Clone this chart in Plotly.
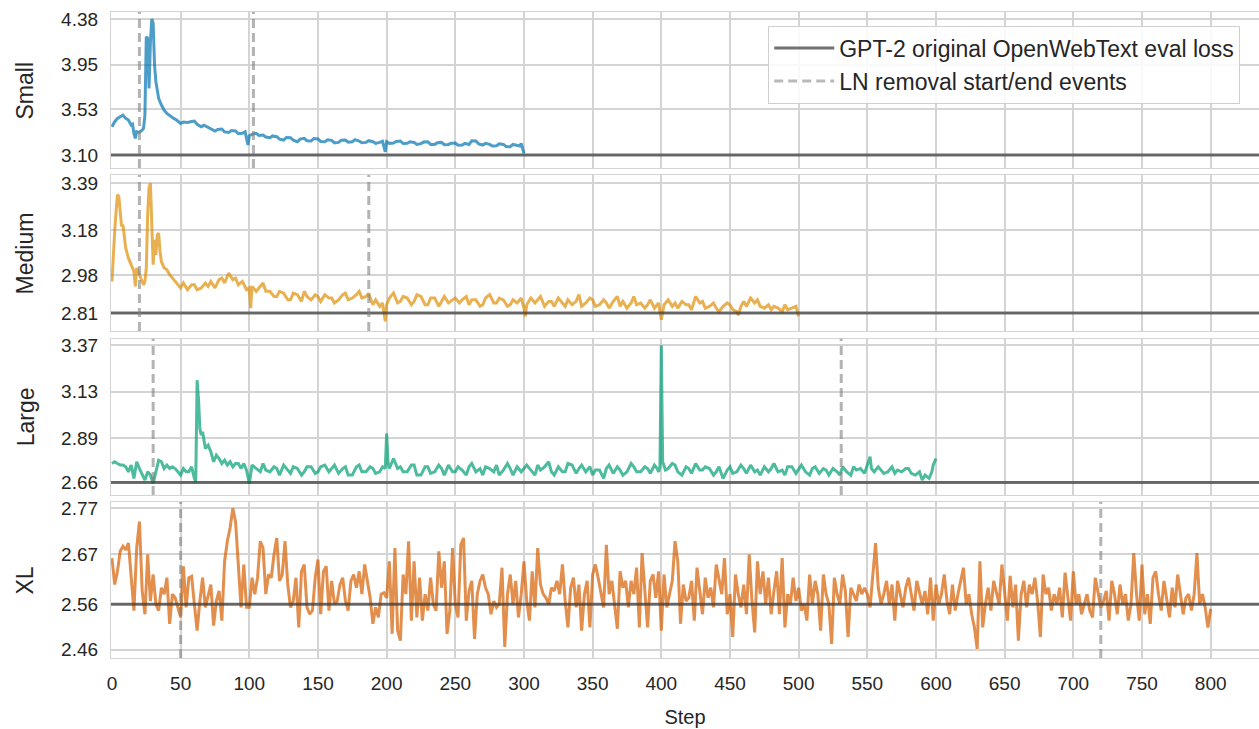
import plotly.graph_objects as go

# ---------------- data ----------------
MODELS = ["Small", "Medium", "Large", "XL"]
BASELINES = [3.10, 2.81, 2.66, 2.56]
LN_EVENTS = [[20, 103], [20, 187], [30, 531], [50, 720]]
Y_TICKS = [
    [3.10, 3.53, 3.95, 4.38],
    [2.81, 2.98, 3.18, 3.39],
    [2.66, 2.89, 3.13, 3.37],
    [2.46, 2.56, 2.67, 2.77],
]
Y_RANGES = [[2.978, 4.446], [2.730, 3.426], [2.595, 3.404], [2.442, 2.784]]
X_TICKS = list(range(0, 801, 50))
COLORS = ["rgba(1,115,178,0.7)", "rgba(222,143,5,0.7)",
          "rgba(2,158,115,0.7)", "rgba(213,94,0,0.7)"]

SMALL_STEPS = [0, 2, 4, 6, 8, 10, 12, 14, 15, 16, 17, 18, 20, 22, 23, 24, 25, 26, 27, 28,
               29, 30, 31, 32, 33, 34, 36, 38, 40, 42, 45, 47, 50, 52, 55, 58, 60, 62, 65, 67,
               70, 72, 75, 77, 80, 82, 85, 87, 90, 92, 95, 97, 99, 100, 102, 105, 107, 110, 112, 115,
               117, 120, 122, 125, 127, 130, 132, 135, 137, 140, 142, 145, 147, 150, 152, 155, 157, 160, 162, 165,
               167, 170, 172, 175, 177, 180, 182, 185, 187, 190, 192, 195, 197, 199, 200, 202, 205, 207, 210, 212,
               215, 217, 220, 222, 225, 227, 230, 232, 235, 237, 240, 242, 245, 247, 250, 252, 255, 257, 260, 262,
               265, 267, 270, 272, 275, 277, 280, 282, 285, 287, 290, 292, 295, 297, 298, 300]
SMALL_LOSS = [3.367, 3.414, 3.445, 3.461, 3.476, 3.445, 3.430, 3.382, 3.390, 3.304, 3.257, 3.320, 3.313, 3.335, 3.351, 3.476, 4.214, 4.198, 3.727, 4.167,
              4.380, 4.340, 3.947, 3.790, 3.696, 3.633, 3.571, 3.523, 3.492, 3.470, 3.445, 3.430, 3.398, 3.410, 3.407, 3.415, 3.420, 3.390, 3.367, 3.380,
              3.357, 3.345, 3.326, 3.340, 3.345, 3.318, 3.313, 3.330, 3.326, 3.300, 3.304, 3.318, 3.194, 3.282, 3.295, 3.304, 3.285, 3.288, 3.270, 3.263,
              3.280, 3.273, 3.250, 3.241, 3.265, 3.263, 3.240, 3.225, 3.250, 3.257, 3.235, 3.232, 3.255, 3.251, 3.228, 3.225, 3.244, 3.238, 3.215, 3.219,
              3.240, 3.241, 3.220, 3.225, 3.245, 3.232, 3.215, 3.219, 3.235, 3.225, 3.210, 3.219, 3.230, 3.131, 3.225, 3.210, 3.213, 3.228, 3.232, 3.208,
              3.210, 3.225, 3.219, 3.200, 3.207, 3.222, 3.225, 3.200, 3.200, 3.215, 3.219, 3.198, 3.200, 3.212, 3.213, 3.192, 3.194, 3.210, 3.200, 3.235,
              3.232, 3.205, 3.194, 3.210, 3.200, 3.185, 3.188, 3.205, 3.200, 3.180, 3.178, 3.200, 3.194, 3.185, 3.210, 3.116]

MEDIUM_STEPS = [0, 1, 2, 3, 4, 5, 6, 7, 8, 9, 10, 12, 14, 16, 17, 18, 20, 22, 23, 24,
                25, 26, 27, 28, 29, 30, 31, 32, 33, 34, 35, 36, 38, 40, 42, 45, 48, 50, 52, 55,
                58, 60, 62, 65, 68, 70, 72, 75, 78, 80, 82, 85, 88, 90, 92, 95, 98, 100, 101, 102,
                105, 108, 110, 112, 115, 118, 120, 122, 125, 128, 130, 132, 135, 138, 140, 142, 145, 148, 150, 152,
                155, 158, 160, 162, 165, 168, 170, 172, 175, 178, 180, 182, 185, 187, 188, 190, 192, 195, 197, 199,
                200, 202, 205, 208, 210, 212, 215, 218, 220, 222, 225, 228, 230, 232, 235, 238, 240, 242, 245, 248,
                250, 253, 255, 258, 260, 262, 265, 268, 270, 272, 275, 278, 280, 282, 285, 288, 290, 292, 295, 298,
                300, 301, 302, 305, 308, 310, 312, 315, 318, 320, 322, 325, 328, 330, 332, 335, 338, 340, 342, 345,
                348, 350, 352, 355, 358, 360, 362, 365, 368, 370, 372, 375, 378, 380, 382, 385, 388, 390, 392, 395,
                398, 400, 402, 405, 408, 410, 412, 415, 418, 420, 422, 425, 428, 430, 432, 435, 438, 440, 442, 445,
                448, 450, 452, 455, 456, 458, 460, 462, 465, 468, 470, 472, 475, 478, 480, 482, 485, 488, 490, 492,
                495, 498, 500]
MEDIUM_LOSS = [2.951, 3.085, 3.174, 3.264, 3.338, 3.330, 3.249, 3.197, 3.204, 3.159, 3.100, 3.055, 3.026, 2.996, 2.929, 3.011, 2.981, 2.951, 2.936, 2.951,
               3.011, 3.249, 3.368, 3.390, 3.234, 3.026, 3.137, 3.070, 3.159, 3.167, 3.085, 3.040, 3.011, 3.003, 2.981, 2.959, 2.936, 2.922, 2.944, 2.914,
               2.936, 2.936, 2.914, 2.922, 2.944, 2.929, 2.951, 2.922, 2.959, 2.966, 2.944, 2.988, 2.959, 2.966, 2.936, 2.951, 2.914, 2.922, 2.832, 2.929,
               2.907, 2.929, 2.944, 2.907, 2.907, 2.884, 2.884, 2.907, 2.899, 2.869, 2.869, 2.899, 2.892, 2.862, 2.907, 2.884, 2.869, 2.892, 2.884, 2.862,
               2.892, 2.877, 2.877, 2.855, 2.869, 2.892, 2.899, 2.869, 2.877, 2.892, 2.907, 2.877, 2.884, 2.899, 2.877, 2.847, 2.869, 2.840, 2.855, 2.773,
               2.847, 2.877, 2.899, 2.855, 2.862, 2.884, 2.877, 2.847, 2.862, 2.892, 2.884, 2.847, 2.847, 2.877, 2.877, 2.840, 2.862, 2.884, 2.855, 2.869,
               2.877, 2.855, 2.869, 2.884, 2.847, 2.869, 2.869, 2.840, 2.847, 2.877, 2.892, 2.855, 2.855, 2.877, 2.869, 2.840, 2.847, 2.869, 2.855, 2.877,
               2.832, 2.795, 2.847, 2.877, 2.855, 2.869, 2.884, 2.840, 2.862, 2.862, 2.840, 2.877, 2.855, 2.840, 2.869, 2.847, 2.862, 2.892, 2.840, 2.855,
               2.877, 2.869, 2.840, 2.847, 2.869, 2.855, 2.832, 2.862, 2.884, 2.840, 2.862, 2.832, 2.855, 2.884, 2.847, 2.855, 2.832, 2.847, 2.869, 2.832,
               2.855, 2.780, 2.847, 2.869, 2.840, 2.855, 2.832, 2.862, 2.847, 2.847, 2.825, 2.884, 2.855, 2.862, 2.832, 2.840, 2.855, 2.832, 2.817, 2.840,
               2.855, 2.847, 2.825, 2.817, 2.800, 2.840, 2.862, 2.840, 2.877, 2.855, 2.869, 2.840, 2.832, 2.847, 2.825, 2.840, 2.832, 2.817, 2.847, 2.825,
               2.832, 2.840, 2.795]

LARGE_STEPS = [0, 2, 4, 6, 8, 10, 12, 14, 16, 18, 20, 22, 24, 26, 28, 30, 32, 34, 36, 38,
               40, 42, 44, 46, 48, 50, 52, 54, 56, 58, 60, 61, 62, 63, 64, 65, 66, 67, 68, 70,
               72, 74, 76, 78, 80, 82, 84, 86, 88, 90, 92, 94, 96, 98, 100, 102, 105, 108, 110, 112,
               115, 118, 120, 122, 125, 128, 130, 132, 135, 138, 140, 142, 145, 148, 150, 152, 155, 158, 160, 162,
               165, 168, 170, 172, 175, 178, 180, 182, 185, 188, 190, 192, 195, 197, 199, 200, 201, 202, 205, 208,
               210, 212, 215, 218, 220, 222, 225, 228, 230, 232, 235, 238, 240, 242, 245, 248, 250, 252, 255, 258,
               260, 262, 265, 268, 270, 272, 275, 278, 280, 282, 285, 288, 290, 292, 295, 298, 300, 302, 305, 308,
               310, 312, 315, 318, 320, 322, 325, 328, 330, 332, 335, 338, 340, 342, 345, 348, 350, 352, 355, 358,
               360, 362, 365, 368, 370, 372, 375, 378, 380, 382, 385, 388, 390, 392, 395, 397, 398, 399, 400, 401,
               403, 405, 408, 410, 412, 415, 418, 420, 422, 425, 428, 430, 432, 435, 438, 440, 442, 445, 448, 450,
               452, 455, 458, 460, 462, 465, 468, 470, 472, 475, 478, 480, 482, 485, 488, 490, 492, 495, 498, 500,
               502, 505, 508, 510, 512, 515, 518, 520, 522, 525, 528, 530, 532, 535, 538, 540, 542, 545, 548, 550,
               552, 553, 555, 558, 560, 562, 565, 568, 570, 572, 575, 578, 580, 582, 585, 588, 590, 592, 595, 597,
               598, 600]
LARGE_LOSS = [2.758, 2.767, 2.758, 2.750, 2.750, 2.741, 2.715, 2.750, 2.681, 2.767, 2.732, 2.698, 2.672, 2.715, 2.698, 2.655, 2.715, 2.775, 2.767, 2.732,
              2.750, 2.732, 2.741, 2.732, 2.715, 2.698, 2.732, 2.715, 2.715, 2.741, 2.681, 2.663, 3.189, 3.094, 2.939, 2.905, 2.922, 2.887, 2.836, 2.853,
              2.819, 2.767, 2.801, 2.784, 2.758, 2.775, 2.750, 2.767, 2.741, 2.758, 2.758, 2.732, 2.758, 2.724, 2.655, 2.750, 2.732, 2.715, 2.758, 2.724,
              2.715, 2.741, 2.732, 2.698, 2.750, 2.724, 2.707, 2.741, 2.732, 2.698, 2.715, 2.741, 2.741, 2.707, 2.715, 2.741, 2.750, 2.715, 2.732, 2.750,
              2.707, 2.732, 2.741, 2.698, 2.698, 2.741, 2.750, 2.715, 2.715, 2.741, 2.732, 2.707, 2.715, 2.741, 2.732, 2.913, 2.767, 2.732, 2.784, 2.732,
              2.741, 2.715, 2.715, 2.750, 2.750, 2.698, 2.698, 2.741, 2.741, 2.707, 2.715, 2.750, 2.732, 2.698, 2.750, 2.715, 2.715, 2.741, 2.724, 2.698,
              2.741, 2.758, 2.715, 2.732, 2.698, 2.741, 2.732, 2.715, 2.750, 2.698, 2.724, 2.758, 2.732, 2.698, 2.741, 2.715, 2.732, 2.750, 2.724, 2.698,
              2.750, 2.724, 2.741, 2.767, 2.715, 2.698, 2.741, 2.715, 2.715, 2.758, 2.750, 2.707, 2.732, 2.750, 2.715, 2.741, 2.698, 2.724, 2.724, 2.681,
              2.732, 2.750, 2.707, 2.741, 2.724, 2.698, 2.715, 2.758, 2.741, 2.715, 2.715, 2.741, 2.732, 2.707, 2.750, 2.732, 2.715, 2.741, 3.370, 2.767,
              2.724, 2.732, 2.758, 2.750, 2.715, 2.698, 2.741, 2.732, 2.707, 2.758, 2.724, 2.724, 2.741, 2.732, 2.698, 2.715, 2.741, 2.681, 2.724, 2.741,
              2.707, 2.715, 2.750, 2.732, 2.707, 2.750, 2.715, 2.724, 2.698, 2.741, 2.715, 2.732, 2.758, 2.715, 2.724, 2.698, 2.741, 2.741, 2.707, 2.732,
              2.750, 2.715, 2.698, 2.732, 2.741, 2.707, 2.732, 2.724, 2.698, 2.732, 2.715, 2.698, 2.741, 2.715, 2.698, 2.741, 2.724, 2.732, 2.707, 2.750,
              2.793, 2.732, 2.715, 2.741, 2.724, 2.707, 2.715, 2.741, 2.707, 2.724, 2.715, 2.732, 2.732, 2.707, 2.698, 2.715, 2.672, 2.698, 2.681, 2.715,
              2.750, 2.784]

# XL loss, one reading every 2 steps from step 0 to step 800
XL_LOSS = [
    2.661, 2.603, 2.632, 2.676, 2.687, 2.679, 2.694, 2.611, 2.546, 2.683,
    2.741, 2.589, 2.538, 2.669, 2.567, 2.625, 2.560, 2.546, 2.596, 2.582,
    2.618, 2.517, 2.582, 2.574, 2.553, 2.531, 2.643, 2.553, 2.618, 2.621,
    2.560, 2.502, 2.567, 2.618, 2.553, 2.582, 2.603, 2.513, 2.567, 2.589,
    2.524, 2.654, 2.698, 2.727, 2.770, 2.741, 2.654, 2.553, 2.647, 2.553,
    2.553, 2.618, 2.582, 2.618, 2.698, 2.683, 2.582, 2.625, 2.618, 2.669,
    2.705, 2.611, 2.625, 2.698, 2.603, 2.553, 2.567, 2.618, 2.509, 2.632,
    2.647, 2.553, 2.538, 2.546, 2.618, 2.658, 2.538, 2.632, 2.643, 2.546,
    2.611, 2.560, 2.567, 2.603, 2.618, 2.567, 2.546, 2.611, 2.625, 2.596,
    2.632, 2.582, 2.647, 2.611, 2.574, 2.517, 2.553, 2.531, 2.582, 2.585,
    2.574, 2.654, 2.495, 2.683, 2.502, 2.480, 2.625, 2.582, 2.698, 2.524,
    2.654, 2.531, 2.618, 2.524, 2.582, 2.546, 2.618, 2.560, 2.546, 2.676,
    2.596, 2.654, 2.495, 2.546, 2.683, 2.560, 2.531, 2.690, 2.705, 2.524,
    2.589, 2.611, 2.484, 2.582, 2.611, 2.625, 2.596, 2.582, 2.538, 2.567,
    2.553, 2.560, 2.640, 2.466, 2.582, 2.625, 2.560, 2.611, 2.531, 2.582,
    2.654, 2.567, 2.524, 2.632, 2.553, 2.683, 2.603, 2.582, 2.574, 2.560,
    2.596, 2.589, 2.611, 2.582, 2.647, 2.567, 2.509, 2.596, 2.618, 2.553,
    2.603, 2.502, 2.582, 2.611, 2.509, 2.625, 2.647, 2.618, 2.582, 2.553,
    2.690, 2.582, 2.611, 2.560, 2.506, 2.632, 2.596, 2.611, 2.553, 2.611,
    2.582, 2.640, 2.509, 2.672, 2.596, 2.509, 2.611, 2.625, 2.574, 2.632,
    2.502,
    2.625, 2.553, 2.582, 2.611, 2.698, 2.654, 2.517, 2.603, 2.567, 2.574,
    2.611, 2.524, 2.640, 2.582, 2.538, 2.618, 2.574, 2.596, 2.553, 2.647,
    2.618, 2.582, 2.661, 2.538, 2.582, 2.488, 2.625, 2.582, 2.553, 2.603,
    2.538, 2.669, 2.567, 2.498, 2.654, 2.582, 2.632, 2.560, 2.618, 2.538,
    2.589, 2.632, 2.538, 2.661, 2.509, 2.582, 2.560, 2.618, 2.567, 2.596,
    2.546, 2.560, 2.524, 2.625, 2.560, 2.611, 2.582, 2.502, 2.625, 2.582,
    2.560, 2.473, 2.618, 2.582, 2.560, 2.625, 2.589, 2.488, 2.596, 2.582,
    2.567, 2.603, 2.582, 2.596, 2.582, 2.553, 2.618, 2.694, 2.596, 2.560,
    2.582, 2.611, 2.560, 2.603, 2.524, 2.611, 2.582, 2.553, 2.596, 2.618,
    2.582, 2.546, 2.611, 2.582, 2.560, 2.589, 2.538, 2.618, 2.524, 2.603,
    2.560, 2.582, 2.625, 2.567, 2.538, 2.603, 2.546, 2.582, 2.611, 2.640,
    2.560, 2.582, 2.538, 2.509, 2.462, 2.654, 2.509, 2.560, 2.596, 2.546,
    2.611, 2.582, 2.560, 2.647, 2.582, 2.524, 2.622, 2.553, 2.603, 2.480,
    2.582, 2.611, 2.553, 2.603, 2.582, 2.618, 2.567, 2.488, 2.625, 2.582,
    2.596, 2.546, 2.582, 2.560, 2.596, 2.531, 2.629, 2.582, 2.524, 2.632,
    2.560, 2.582, 2.538, 2.560, 2.582, 2.546, 2.531, 2.618, 2.582, 2.553,
    2.567, 2.589, 2.524, 2.611, 2.582, 2.538, 2.603, 2.560, 2.582, 2.524,
    2.560, 2.672, 2.582, 2.524, 2.647, 2.538, 2.582, 2.517, 2.618, 2.632,
    2.582, 2.546, 2.611, 2.567, 2.531, 2.596, 2.553, 2.625, 2.582, 2.538,
    2.574, 2.582, 2.546, 2.582, 2.672, 2.560, 2.582, 2.553, 2.509, 2.550,
]
XL_STEPS = list(range(0, 2 * len(XL_LOSS), 2))

SERIES = [(SMALL_STEPS, SMALL_LOSS), (MEDIUM_STEPS, MEDIUM_LOSS),
          (LARGE_STEPS, LARGE_LOSS), (XL_STEPS, XL_LOSS)]

# ---------------- layout constants ----------------
FONT = "Liberation Sans, Arial, sans-serif"
TXT = "#262626"
GRID = "#d4d4d4"
DOMAINS = [[0.7585, 1.0], [0.5062, 0.7477], [0.2523, 0.4943], [0.0, 0.2415]]
X_RANGE = [-0.7, 835.2]

fig = go.Figure()
shapes = []
annotations = []
layout = {}

for i, (name, (steps, loss)) in enumerate(zip(MODELS, SERIES)):
    n = i + 1
    xa = "x" if n == 1 else f"x{n}"
    ya = "y" if n == 1 else f"y{n}"
    fig.add_trace(go.Scatter(
        x=steps, y=loss, mode="lines", xaxis=xa, yaxis=ya,
        line=dict(color=COLORS[i], width=3), showlegend=False,
        hoverinfo="x+y",
    ))
    xkey = "xaxis" if n == 1 else f"xaxis{n}"
    ykey = "yaxis" if n == 1 else f"yaxis{n}"
    layout[xkey] = dict(
        domain=[0, 1], range=X_RANGE, anchor=ya,
        tickvals=X_TICKS, showticklabels=(n == 4),
        showgrid=True, gridcolor=GRID, gridwidth=1.5, zeroline=False,
        showline=True, linecolor=GRID, linewidth=1.2, mirror=True,
        ticks="", tickfont=dict(family=FONT, size=19, color=TXT),
        ticklabelstandoff=8,
    )
    if n != 1:
        layout[xkey]["matches"] = "x"
    if n == 4:
        layout[xkey]["title"] = dict(text="Step", font=dict(family=FONT, size=20, color=TXT),
                                     standoff=17)
    layout[ykey] = dict(
        domain=DOMAINS[i], range=Y_RANGES[i], anchor=xa,
        tickvals=Y_TICKS[i], ticktext=[f"{v:.2f}" for v in Y_TICKS[i]],
        showgrid=True, gridcolor=GRID, gridwidth=1.5, zeroline=False,
        showline=True, linecolor=GRID, linewidth=1.2, mirror=True,
        ticks="", tickfont=dict(family=FONT, size=19, color=TXT),
        ticklabelstandoff=8,
    )
    # baseline (GPT-2 original eval loss)
    shapes.append(dict(type="line", xref=f"{xa} domain", yref=ya,
                       x0=0, x1=1, y0=BASELINES[i], y1=BASELINES[i],
                       line=dict(color="rgba(60,60,60,0.72)", width=3), layer="above"))
    # LN removal events
    for ev in LN_EVENTS[i]:
        shapes.append(dict(type="line", xref=xa, yref=f"{ya} domain",
                           x0=ev, x1=ev, y0=0, y1=1,
                           line=dict(color="rgba(128,128,128,0.6)", width=3, dash="9px,5px"),
                           layer="above"))
    annotations.append(dict(
        text=name, xref="paper", yref="paper", x=-0.0745, y=sum(DOMAINS[i]) / 2,
        xanchor="center", yanchor="middle", textangle=-90, showarrow=False,
        font=dict(family=FONT, size=23, color=TXT),
    ))

# legend-only traces
fig.add_trace(go.Scatter(x=[None], y=[None], mode="lines",
                         line=dict(color="rgba(60,60,60,0.72)", width=3),
                         name="GPT-2 original OpenWebText eval loss"))
fig.add_trace(go.Scatter(x=[None], y=[None], mode="lines",
                         line=dict(color="rgba(128,128,128,0.55)", width=3, dash="9px,5px"),
                         name="LN removal start/end events"))

fig.update_layout(
    **layout,
    width=1259, height=729,
    margin=dict(l=111, r=0, t=12, b=71),
    paper_bgcolor="white", plot_bgcolor="white",
    shapes=shapes, annotations=annotations,
    showlegend=True,
    legend=dict(x=0.5725, y=0.979, xanchor="left", yanchor="top",
                bgcolor="rgba(255,255,255,0.85)", bordercolor="#cfcfcf", borderwidth=1,
                font=dict(family=FONT, size=23, color=TXT), itemwidth=60),
    font=dict(family=FONT, color=TXT),
)

fig.write_html("out.html")
